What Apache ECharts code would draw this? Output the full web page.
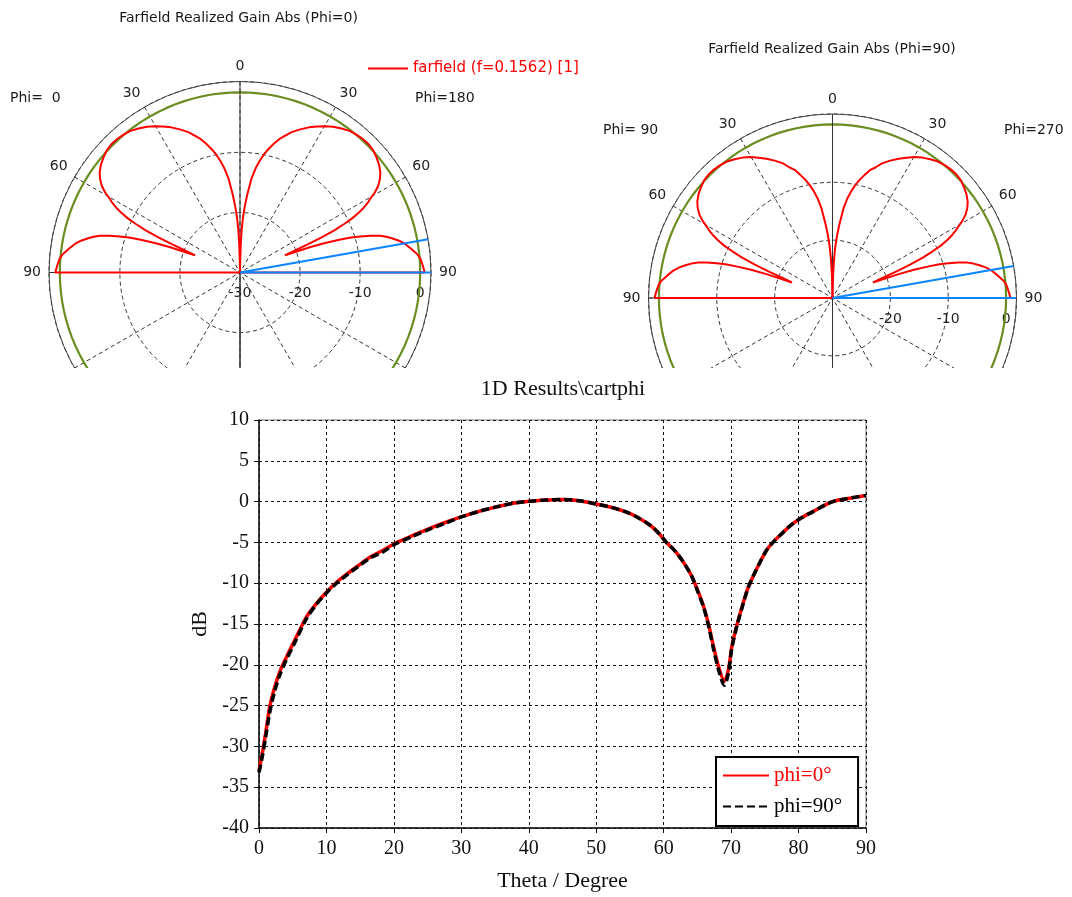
<!DOCTYPE html>
<html><head><meta charset="utf-8">
<script src="https://cdn.jsdelivr.net/npm/echarts@6/dist/echarts.min.js"></script>
<style>
html,body{margin:0;padding:0;background:#fff;}
#topChart{position:absolute;left:0;top:0;width:1072px;height:368px;}
#bottomChart{position:absolute;left:0;top:368px;width:1072px;height:529px;}
</style>
</head><body>
<div id="topChart"></div><div id="bottomChart"></div>
<script>
// ---- data ----
const thetaDeg = [0,0.5,1,1.6,2.3,3.1,4.1,5.3,7,8.5,10,11.5,13,14.8,16.5,18.3,20.2,22.8,25.4,27.8,30.1,32.6,35.2,37.7,40.2,42.6,45,47.5,50,52.2,54.5,56.3,58,59.3,60.4,61.4,62.4,63.3,64.2,65,65.9,66.7,67.4,68.2,69,69.6,70.1,70.9,71.8,72.5,73.3,74.3,75.3,76.3,77.3,78.7,80.2,82.2,84.2,85.5,87.1,88.5,90];
const gainPhi0 = [-33.0,-30.8,-28.3,-25.1,-22.8,-20.8,-19.0,-17.0,-14.2,-12.5,-11.1,-9.9,-8.9,-7.8,-6.8,-6.0,-5.1,-4.15,-3.25,-2.5,-1.85,-1.2,-0.65,-0.2,0.05,0.2,0.25,0.1,-0.3,-0.7,-1.3,-2.0,-2.9,-3.9,-5.0,-5.8,-6.8,-7.9,-9.2,-10.8,-12.8,-15.2,-17.8,-20.4,-22.0,-20.6,-17.8,-15.0,-12.4,-10.6,-9.1,-7.4,-5.9,-4.9,-4.1,-3.0,-2.1,-1.2,-0.3,0.1,0.35,0.55,0.75];
const gainPhi90 = [-33.2,-31.2,-28.8,-25.8,-23.3,-21.2,-19.3,-17.3,-14.4,-12.6,-11.2,-10.0,-9.0,-7.9,-6.9,-6.2,-5.2,-4.25,-3.35,-2.6,-1.85,-1.2,-0.65,-0.2,0.05,0.2,0.25,0.1,-0.3,-0.7,-1.3,-2.0,-2.9,-3.9,-5.0,-5.8,-6.8,-7.9,-9.2,-10.9,-12.9,-15.4,-18.1,-20.8,-22.5,-21.0,-18.0,-15.1,-12.5,-10.6,-9.1,-7.4,-5.9,-4.9,-4.1,-3.0,-2.1,-1.2,-0.3,0.1,0.35,0.55,0.75];
const polarRadialLabels1 = [-30,-20,-10,0];
const polarRadialLabels2 = [-20,-10,0];
const polarAngleLabels = [0,30,60,90];
const blueMarkerTheta = [90, 80];
const greenRingDb = 0;
const polarMinDb = -30, polarMaxDb = 1.8;
const xTicks = [0,10,20,30,40,50,60,70,80,90];
const yTicks = [-40,-35,-30,-25,-20,-15,-10,-5,0,5,10];
const legendName = 'farfield (f=0.1562) [1]';

// ---- helpers ----
// angle convention: 0 = right (3 o'clock), counter-clockwise; theta 0 points up.
function half(gains, side) {
  const pts = thetaDeg.map((t, i) => [Math.max(gains[i], polarMinDb), side === 'left' ? 90 + t : 90 - t]);
  pts.push([polarMinDb, side === 'left' ? 180 : 0]);
  return pts;
}
const ringAngles = Array.from({length: 121}, (_, i) => i * 3);
function polarSeries(idx, gains, withLegend) {
  const base = {type:'line', coordinateSystem:'polar', polarIndex: idx, symbol:'none', showSymbol:false, silent:true, animation:false};
  const blue = [[polarMaxDb, 90 - blueMarkerTheta[0]], [polarMinDb, 90 - blueMarkerTheta[0]], [polarMaxDb, 90 - blueMarkerTheta[1]]];
  return [
    Object.assign({}, base, {name:'ring'+idx, z:2, data: ringAngles.map(a => [greenRingDb, a]), lineStyle:{color:'#6b8e23', width:2.2}}),
    Object.assign({}, base, {name:'cross'+idx, z:2, data: [[polarMaxDb,90],[polarMinDb,90],[polarMaxDb,270],[polarMinDb,270],[polarMaxDb,0],[polarMinDb,0],[polarMaxDb,180]], lineStyle:{color:'#333', width:1}}),
    Object.assign({}, base, {name: withLegend ? legendName : 'l'+idx, z:3, data: half(gains,'left'), lineStyle:{color:'#ff0000', width:2}, itemStyle:{color:'#ff0000'}}),
    Object.assign({}, base, {name: withLegend ? legendName : 'r'+idx, z:3, data: half(gains,'right'), lineStyle:{color:'#ff0000', width:2}, itemStyle:{color:'#ff0000'}}),
    Object.assign({}, base, {name:'blue'+idx, z:4, data: blue, lineStyle:{color:'#0a84ff', width:2}})
  ];
}
const sans = '"DejaVu Sans", sans-serif';
function angleAxis(idx) {
  return {polarIndex: idx, type:'value', min:0, max:360, interval:30, startAngle:0, clockwise:false,
    axisLine:{lineStyle:{color:'#444', width:1}}, axisTick:{show:false},
    axisLabel:{margin:8, fontSize:14, color:'#222', fontFamily: sans,
      formatter: v => (v >= 0 && v <= 180 && polarAngleLabels.includes(Math.abs(90 - v))) ? String(Math.abs(90 - v)) : ''},
    splitLine:{show:true, lineStyle:{color:'#333', width:1, type:[4,3]}}};
}
function radiusAxis(idx, labels) {
  return {polarIndex: idx, type:'value', min:polarMinDb, max:polarMaxDb, interval:10,
    axisLine:{show:false}, axisTick:{show:false},
    axisLabel:{margin:-28, fontSize:14, color:'#222', fontFamily: sans, formatter: v => labels.includes(v) ? String(v) : ''},
    splitLine:{show:true, lineStyle:{color:'#333', width:1, type:[4,3]}}};
}
function txt(text, x, y, align) {
  return {type:'text', x, y, silent:true, style:{text, fill:'#1a1a1a', font:'14px "DejaVu Sans"', align: align || 'left', verticalAlign:'middle'}};
}
const noSymbol = {color:'rgba(0,0,0,0)', borderColor:'rgba(0,0,0,0)', borderWidth:0};

const chartTop = echarts.init(document.getElementById('topChart'), null, {renderer:'canvas'});
chartTop.setOption({
  animation:false,
  backgroundColor:'#fff',
  polar:[{center:[240,272.5], radius:191}, {center:[832.5,298], radius:184}],
  angleAxis:[angleAxis(0), angleAxis(1)],
  radiusAxis:[radiusAxis(0, polarRadialLabels1), radiusAxis(1, polarRadialLabels2)],
  legend:{data:[legendName], left:367, top:61, padding:0, itemWidth:40, itemHeight:14, itemStyle: noSymbol,
    textStyle:{color:'#ff0000', fontSize:15, fontFamily: sans}},
  graphic:[
    txt('Farfield Realized Gain Abs (Phi=0)', 238.5, 18, 'center'),
    txt('Farfield Realized Gain Abs (Phi=90)', 832, 49, 'center'),
    txt('Phi=  0', 10, 98), txt('Phi=180', 415, 98),
    txt('Phi= 90', 603, 130), txt('Phi=270', 1004, 130)
  ],
  series:[].concat(polarSeries(0, gainPhi0, true), polarSeries(1, gainPhi90, false))
});

const serif = '"Liberation Serif", "Times New Roman", serif';
const chartBottom = echarts.init(document.getElementById('bottomChart'), null, {renderer:'canvas'});
chartBottom.setOption({
  animation:false,
  backgroundColor:'#fff',
  textStyle:{fontFamily: serif},
  graphic:[{type:'text', x:563, y:21, silent:true, style:{text:'1D Results\\cartphi', fill:'#111', font:'22px ' + serif, align:'center', verticalAlign:'middle'}}],
  grid:{left:259, right:206, top:52, bottom:64, show:true, borderColor:'#777', borderWidth:1, backgroundColor:'transparent'},
  xAxis:{type:'value', min:xTicks[0], max:xTicks[xTicks.length-1], interval:10,
    name:'Theta / Degree', nameLocation:'middle', nameGap:42, nameTextStyle:{fontSize:22, color:'#111', fontFamily: serif},
    axisLine:{onZero:false, lineStyle:{color:'#111', width:1.5}}, axisTick:{show:true, length:5, lineStyle:{color:'#111'}},
    axisLabel:{fontSize:20, color:'#111', margin:11, fontFamily: serif, formatter: v => xTicks.includes(v) ? String(v) : ''},
    splitLine:{show:true, lineStyle:{type:[3,3], color:'#111', width:1}}},
  yAxis:{type:'value', min:yTicks[0], max:yTicks[yTicks.length-1], interval:5,
    name:'dB', nameLocation:'middle', nameGap:48, nameRotate:90, nameTextStyle:{fontSize:22, color:'#111', fontFamily: serif},
    axisLine:{onZero:false, lineStyle:{color:'#111', width:1.5}}, axisTick:{show:true, length:5, inside:false, lineStyle:{color:'#111'}},
    axisLabel:{fontSize:20, color:'#111', margin:10, fontFamily: serif, formatter: v => yTicks.includes(v) ? String(v) : ''},
    splitLine:{show:true, lineStyle:{type:[3,3], color:'#111', width:1}}},
  legend:{orient:'vertical', left:716, top:389, padding:[8,16,9,6], itemGap:10, itemWidth:46, itemHeight:20,
    borderColor:'#000', borderWidth:2, backgroundColor:'#fff', itemStyle: noSymbol,
    textStyle:{fontSize:21, fontFamily: serif},
    data:[{name:'phi=0°', textStyle:{color:'#ff0000'}}, {name:'phi=90°', textStyle:{color:'#000'}}]},
  series:[
    {type:'line', name:'phi=0°', data: thetaDeg.map((t,i) => [t, gainPhi0[i]]), symbol:'none', showSymbol:false, smooth:0.3,
      lineStyle:{color:'#ff0000', width:3.5}, itemStyle:{color:'#ff0000'}},
    {type:'line', name:'phi=90°', data: thetaDeg.map((t,i) => [t, gainPhi90[i]]), symbol:'none', showSymbol:false, smooth:0.3,
      lineStyle:{color:'#000', width:3.5, type:[8,4]}, itemStyle:{color:'#000'}}
  ]
});
</script>
</body></html>
